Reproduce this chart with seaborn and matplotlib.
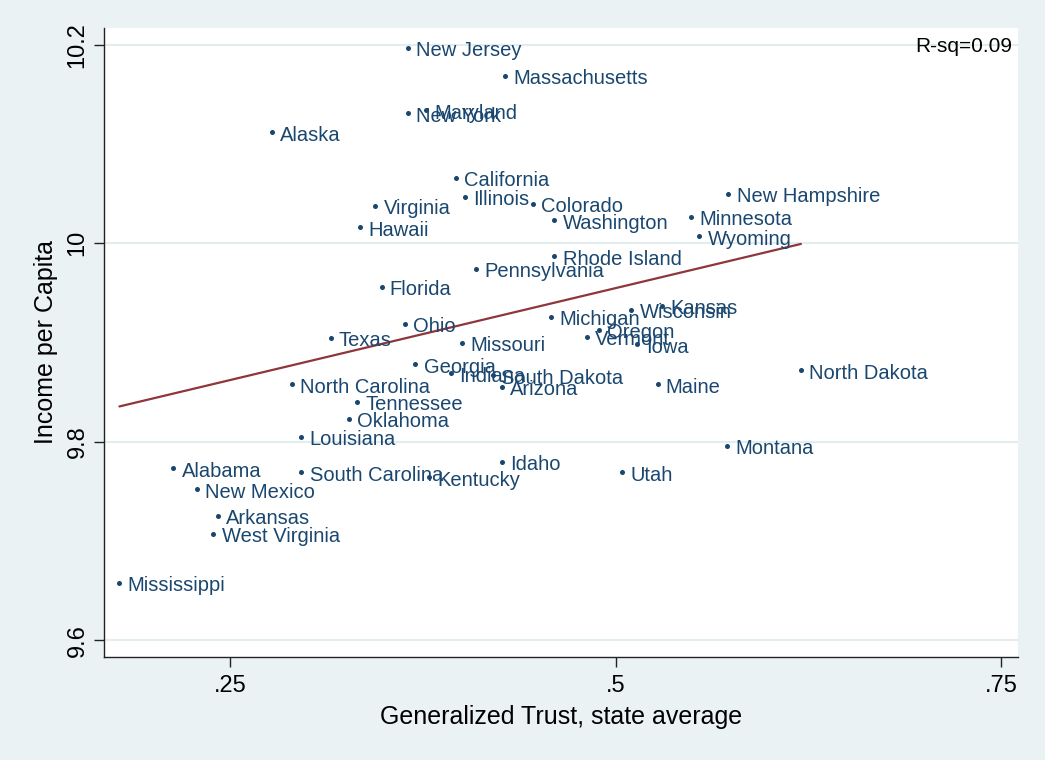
import numpy as np
import pandas as pd
import matplotlib.pyplot as plt
import seaborn as sns

# state averages
states = ["New Jersey", "Massachusetts", "Maryland", "New York", "Alaska",
          "California", "Illinois", "Colorado", "Virginia", "Hawaii",
          "Washington", "New Hampshire", "Minnesota", "Wyoming", "Rhode Island",
          "Pennsylvania", "Florida", "Michigan", "Wisconsin", "Kansas",
          "Ohio", "Texas", "Oregon", "Vermont", "Iowa",
          "Missouri", "Georgia", "Indiana", "South Dakota", "North Dakota",
          "North Carolina", "Arizona", "Maine", "Tennessee", "Oklahoma",
          "Louisiana", "Montana", "Alabama", "South Carolina", "Kentucky",
          "Idaho", "Utah", "New Mexico", "Arkansas", "West Virginia",
          "Mississippi"]
trust = [0.365, 0.428, 0.377, 0.365, 0.277,
         0.396, 0.402, 0.446, 0.344, 0.334,
         0.460, 0.573, 0.549, 0.554, 0.460,
         0.409, 0.348, 0.458, 0.510, 0.530,
         0.363, 0.315, 0.489, 0.481, 0.514,
         0.400, 0.370, 0.393, 0.420, 0.620,
         0.290, 0.426, 0.527, 0.332, 0.327,
         0.296, 0.572, 0.213, 0.296, 0.379,
         0.426, 0.504, 0.228, 0.242, 0.239,
         0.178]
income = [10.197, 10.169, 10.134, 10.131, 10.112,
          10.066, 10.047, 10.040, 10.038, 10.016,
          10.023, 10.050, 10.027, 10.007, 9.987,
          9.974, 9.956, 9.926, 9.933, 9.937,
          9.919, 9.905, 9.913, 9.906, 9.898,
          9.900, 9.878, 9.869, 9.867, 9.872,
          9.858, 9.855, 9.858, 9.840, 9.823,
          9.805, 9.796, 9.773, 9.769, 9.764,
          9.780, 9.769, 9.752, 9.725, 9.707,
          9.658]
rsq_text = "R-sq=0.09"
xticks = [0.25, 0.5, 0.75]
xticklabels = [".25", ".5", ".75"]
yticks = [9.6, 9.8, 10.0, 10.2]
yticklabels = ["9.6", "9.8", "10", "10.2"]

df = pd.DataFrame({"state": states, "trust": trust, "income": income})

sns.set_theme(style="white")
plt.rcParams['font.family'] = ['Liberation Sans', 'DejaVu Sans']

navy = "#1a476f"
maroon = "#90353b"
bg = "#eaf2f3"

fig = plt.figure(figsize=(10.45, 7.6), dpi=100, facecolor=bg)
ax = fig.add_axes([104/1045, 1 - 657/760, (1018 - 104)/1045, (657 - 28)/760])
ax.set_facecolor("white")

# fitted line, drawn over the range of the data like Stata's lfit
sns.regplot(data=df, x="trust", y="income", scatter=False, ci=None,
            line_kws={"color": maroon, "linewidth": 1.6}, ax=ax)
sns.scatterplot(data=df, x="trust", y="income", color=navy, s=13,
                linewidth=0, ax=ax, zorder=3)

for _, row in df.iterrows():
    ax.annotate(row["state"], (row["trust"], row["income"]),
                xytext=(6.0, -6.0), textcoords="offset points",
                ha="left", va="baseline", fontsize=14.5, color=navy)

ax.text(0.994, 0.986, rsq_text, transform=ax.transAxes, ha="right", va="top",
        fontsize=15, color="black")

ax.set_xlim(0.168, 0.7608)
ax.set_ylim(9.583, 10.217)
ax.set_xticks(xticks)
ax.set_xticklabels(xticklabels)
ax.set_yticks(yticks)
ax.set_yticklabels(yticklabels, rotation=90, va="center")

ax.yaxis.grid(True, color="#e3edef", linewidth=1.5)
ax.xaxis.grid(False)
ax.set_axisbelow(True)

for side in ["top", "right"]:
    ax.spines[side].set_visible(False)
for side in ["left", "bottom"]:
    ax.spines[side].set_color("#222222")
    ax.spines[side].set_linewidth(1.0)

ax.tick_params(axis="both", which="major", length=7, width=1.0,
               color="#222222", labelsize=17, labelcolor="black",
               bottom=True, left=True)
ax.tick_params(axis="y", pad=4)
ax.tick_params(axis="x", pad=6)

ax.set_xlabel("Generalized Trust, state average", fontsize=18, color="black",
              labelpad=6)
ax.set_ylabel("Income per Capita", fontsize=18, color="black", labelpad=6)

fig.savefig("out.png", dpi=100, facecolor=bg)
